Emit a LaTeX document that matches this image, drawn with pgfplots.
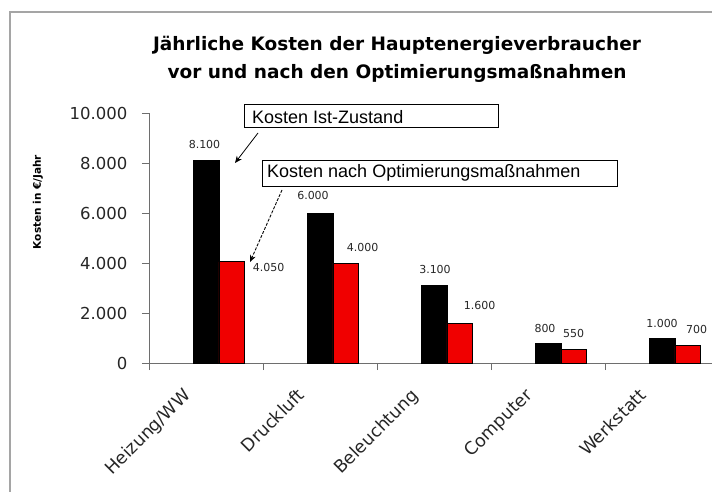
\documentclass[border=0pt]{standalone}
\usepackage{fontspec}
\setmainfont{DejaVu Sans}
\newfontfamily\boxfont{Liberation Sans}
\usepackage{pgfplots}
\pgfplotsset{compat=1.18}
\usetikzlibrary{arrows.meta}
\definecolor{axgray}{RGB}{110,110,110}
\definecolor{framegray}{RGB}{165,165,165}
\definecolor{barred}{RGB}{240,0,0}

% x = bar position, y = cost, dx/dy = where the value label sits (pt from bar top)
\begin{document}
\begin{tikzpicture}
% outer frame (cut at right and bottom like the scan)
\draw[framegray, line width=2pt] (10pt,-20pt) -- (10pt,479pt) -- (740pt,479pt);

\begin{axis}[
  at={(149pt,128pt)}, anchor=south west,
  scale only axis, width=570pt, height=250pt,
  xmin=0, xmax=5, ymin=0, ymax=10000,
  axis x line=bottom, axis y line=left,
  axis line style={-, axgray, line width=1pt},
  xtick={0,1,2,3,4,5},
  xticklabels={Heizung/WW,Druckluft,Beleuchtung,Computer,Werkstatt},
  x tick label as interval,
  ytick={0,2000,...,10000},
  tick align=outside, major tick length=7pt,
  tick style={axgray, line width=1pt},
  scaled y ticks=false,
  /pgf/number format/assume math mode=true,
  /pgf/number format/1000 sep={.},
  y tick label style={font=\fontsize{16.5}{18}\selectfont, text=black!85, xshift=-11pt},
  % shifts act in the rotated frame
  x tick label style={font=\fontsize{17.5}{19}\selectfont, text=black!85,
    rotate=45, anchor=north east, inner sep=0pt, xshift=-29pt, yshift=5pt},
  clip=false,
  visualization depends on=value \thisrow{dx}\as\dx,
  visualization depends on=value \thisrow{dy}\as\dy,
  every node near coord/.append style={font=\fontsize{11}{12}\selectfont,
    text=black!85, inner sep=0pt, anchor=center, xshift=\dx pt, yshift=\dy pt},
]
% Kosten Ist-Zustand
\addplot[ybar, bar width=0.225, bar shift=0pt, fill=black, draw=black,
  nodes near coords] table[x=x, y=y] {
x     y     dx    dy
0.5   8100  -1.5  16
1.5   6000  -7    18
2.5   3100  1     16
3.5   800   -3    15
4.5   1000  0     15
};
% Kosten nach Optimierungsmassnahmen
\addplot[ybar, bar width=0.225, bar shift=0pt, fill=barred, draw=black, line width=0.6pt,
  nodes near coords] table[x=x, y=y] {
x      y     dx    dy
0.725  4050  37    -6
1.725  4000  17    16
2.725  1600  20    18
3.725  550   0     16
4.725  700   9     16
};
\end{axis}

% title
\node[font=\bfseries\fontsize{18.5}{28}\selectfont, align=center]
  at (397pt,432pt) {Jährliche Kosten der Hauptenergieverbraucher\\vor und nach den Optimierungsmaßnahmen};
% y label
\node[rotate=90, font=\bfseries\fontsize{10.5}{12}\selectfont] at (38pt,289pt) {Kosten in €/Jahr};

% callouts
\draw[line width=1pt, fill=white] (244pt,386pt) rectangle (498pt,363pt);
\node[anchor=west, inner sep=0pt, font=\boxfont\fontsize{18}{20}\selectfont] at (252pt,374pt) {Kosten Ist-Zustand};
\draw[line width=0.8pt, -{Stealth[length=7pt,width=6pt]}] (258pt,358pt) -- (235pt,328pt);
\draw[line width=1pt, fill=white] (262pt,331pt) rectangle (617pt,305pt);
\node[anchor=west, inner sep=0pt, font=\boxfont\fontsize{18}{20}\selectfont] at (267pt,318pt) {Kosten nach Optimierungsmaßnahmen};
\draw[line width=0.9pt, dashed, dash pattern=on 3pt off 1.5pt, -{Stealth[length=7pt,width=6pt]}] (282pt,301pt) -- (250pt,229pt);

\pgfresetboundingbox
\useasboundingbox (0,0) rectangle (712pt,491pt);
\end{tikzpicture}
\end{document}
